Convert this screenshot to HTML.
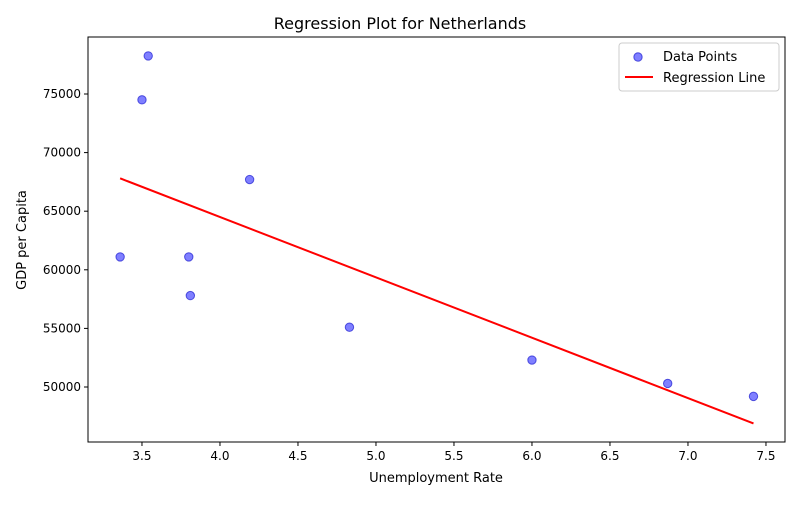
<!DOCTYPE html>
<html><head><meta charset="utf-8"><style>
body{margin:0;background:#fff;font-family:"Liberation Sans","DejaVu Sans",sans-serif;}
svg text{font-family:"DejaVu Sans","Liberation Sans",sans-serif;}
</style></head><body>
<svg id="chart" width="800" height="500" xmlns="http://www.w3.org/2000/svg"></svg>
<script>
const xValues=[3.54,3.50,4.19,3.36,3.80,3.81,4.83,6.00,6.87,7.42];
const yValues=[78250,74500,67700,61100,61100,57800,55100,52300,50300,49200];
const xTicks=[3.5,4.0,4.5,5.0,5.5,6.0,6.5,7.0,7.5];
const xTickLabels=["3.5","4.0","4.5","5.0","5.5","6.0","6.5","7.0","7.5"];
const yTicks=[50000,55000,60000,65000,70000,75000];
const yTickLabels=["50000","55000","60000","65000","70000","75000"];
const L=88,R=785,T=37,B=442,xMin=3.154,xMax=7.622,yMin=45307,yMax=79863;
const sx=v=>L+(v-xMin)/(xMax-xMin)*(R-L);
const sy=v=>B-(v-yMin)/(yMax-yMin)*(B-T);
const svg=document.getElementById('chart');
const NS='http://www.w3.org/2000/svg';
function mk(tag,attrs,parent){const e=document.createElementNS(NS,tag);for(const k in attrs)e.setAttribute(k,attrs[k]);(parent||svg).appendChild(e);return e;}
let t=mk('text',{x:400,y:29,'text-anchor':'middle','font-size':16});t.textContent='Regression Plot for Netherlands';


xTicks.forEach((v,i)=>{const x=sx(v);mk('line',{x1:x,x2:x,y1:B,y2:B+4,stroke:'#000'});
 const l=mk('text',{x:x,y:B+18,'text-anchor':'middle','font-size':12});l.textContent=xTickLabels[i];
 
 });
yTicks.forEach((v,i)=>{const y=sy(v);mk('line',{x1:L-4,x2:L,y1:y,y2:y,stroke:'#000'});
 const l=mk('text',{x:L-7,y:y+4,'text-anchor':'end','font-size':12});l.textContent=yTickLabels[i];
 
 });
t=mk('text',{x:436,y:482,'text-anchor':'middle','font-size':13});t.textContent='Unemployment Rate';


t=mk('text',{x:26,y:240,'text-anchor':'middle','font-size':13,transform:'rotate(-90 26 240)'});t.textContent='GDP per Capita';


xValues.forEach((v,i)=>{const c=mk('circle',{cx:sx(v),cy:sy(yValues[i]),r:4.2,fill:'rgba(0,0,255,0.5)',stroke:'rgba(0,0,200,0.6)','stroke-width':1});
 
 });
const n=xValues.length,mx=xValues.reduce((a,b)=>a+b)/n,my=yValues.reduce((a,b)=>a+b)/n;
let num=0,den=0;xValues.forEach((v,i)=>{num+=(v-mx)*(yValues[i]-my);den+=(v-mx)**2;});
const slope=num/den,inter=my-slope*mx;
const x0=Math.min(...xValues),x1=Math.max(...xValues);
const ln=mk('line',{x1:sx(x0),y1:sy(inter+slope*x0),x2:sx(x1),y2:sy(inter+slope*x1),stroke:'#f00','stroke-width':2});


const fr=mk('rect',{x:L,y:T,width:R-L,height:B-T,fill:'none',stroke:'#000','stroke-width':1});


const lg=mk('g',{});


mk('rect',{x:619,y:43,width:160,height:48,rx:3,fill:'#fff',stroke:'#ccc'},lg);
mk('circle',{cx:638,cy:57,r:4.2,fill:'rgba(0,0,255,0.5)',stroke:'rgba(0,0,200,0.6)'},lg);
t=mk('text',{x:663,y:61,'font-size':13},lg);t.textContent='Data Points';


mk('line',{x1:625,x2:653,y1:77,y2:77,stroke:'#f00','stroke-width':2},lg);
t=mk('text',{x:663,y:82,'font-size':13},lg);t.textContent='Regression Line';


</script>
</body></html>
